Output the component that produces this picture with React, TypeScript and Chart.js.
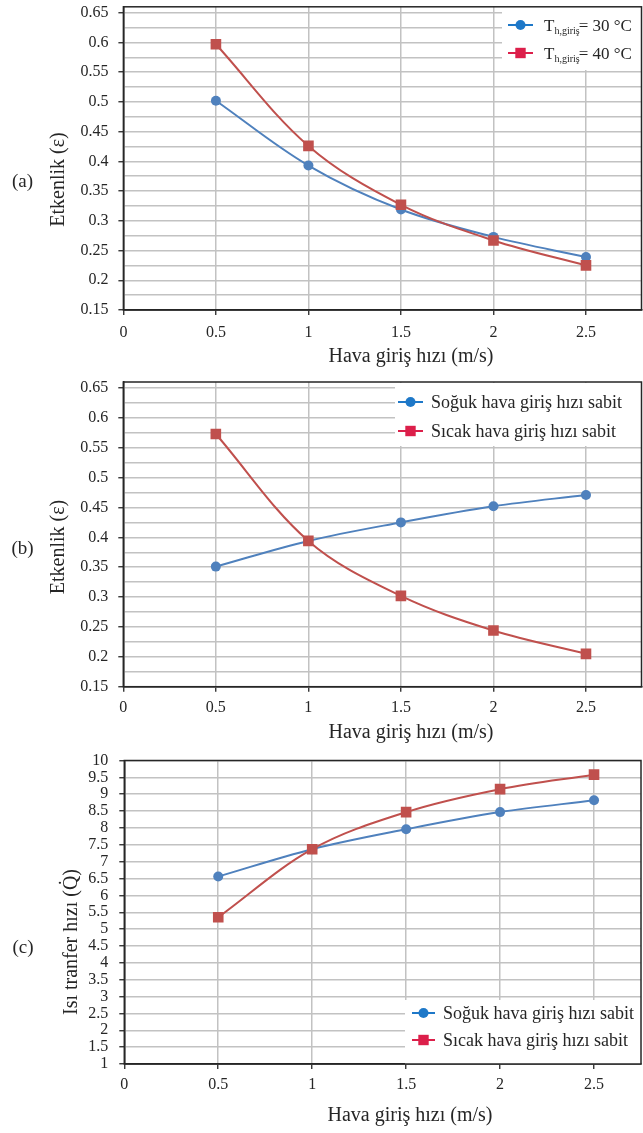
import React, { useEffect, useRef } from 'react';
import { Chart, registerables } from 'chart.js';

Chart.register(...registerables);

const FONT = "'Liberation Serif', 'Times New Roman', Times, serif";
const TEXT = '#262626';
const GRID = '#c2c2c2';
const AXIS = '#262626';
const BLUE = '#4f81bd';
const RED = '#c0504d';
const BLUE_KEY = '#1e78c8';
const RED_KEY = '#dc1f4a';

// shared x values (air inlet speed, m/s)
const airSpeeds = [0.5, 1, 1.5, 2, 2.5];
const xTicks = [0, 0.5, 1, 1.5, 2, 2.5];

// (a) effectiveness for two hot inlet temperatures
const effA30 = [0.502, 0.393, 0.319, 0.273, 0.239];
const effA40 = [0.597, 0.426, 0.327, 0.267, 0.225];
// (b) effectiveness, cold / hot inlet speed fixed
const effBCold = [0.351, 0.394, 0.425, 0.452, 0.471];
const effBHot = [0.573, 0.394, 0.302, 0.244, 0.205];
// (c) heat transfer rate, cold / hot inlet speed fixed
const qCold = [6.56, 7.37, 7.96, 8.47, 8.82];
const qHot = [5.35, 7.37, 8.47, 9.15, 9.58];

const effMajorTicks = [0.15, 0.2, 0.25, 0.3, 0.35, 0.4, 0.45, 0.5, 0.55, 0.6, 0.65];
const effMinorTicks = [0.175, 0.225, 0.275, 0.325, 0.375, 0.425, 0.475, 0.525, 0.575, 0.625];
const qMajorTicks = [1, 1.5, 2, 2.5, 3, 3.5, 4, 4.5, 5, 5.5, 6, 6.5, 7, 7.5, 8, 8.5, 9, 9.5, 10];
const qMinorTicks: number[] = [];

const labelsA = ['Th,giriş= 30 °C', 'Th,giriş= 40 °C'];
const legendPartsA = [['T', 'h,giriş', '= 30 °C'], ['T', 'h,giriş', '= 40 °C']];
const labelsBC = ['Soğuk hava giriş hızı sabit', 'Sıcak hava giriş hızı sabit'];
const legendPartsBC = [['Soğuk hava giriş hızı sabit'], ['Sıcak hava giriş hızı sabit']];

const yTitleEff = 'Etkenlik (ε)';
const yTitleQ = 'Isı tranfer hızı (Q\u0307)';
const xTitle = 'Hava giriş hızı (m/s)';

type LegendSpec = {
  box: [number, number, number, number];
  lineX: [number, number];
  textX: number;
  rows: number[];
  size: number;
  parts: string[][];
};

type Panel = {
  key: string;
  height: number;
  area: { left: number; top: number; right: number; bottom: number };
  yMin: number;
  yMax: number;
  xMax: number;
  major: number[];
  minor: number[];
  blue: number[];
  red: number[];
  labels: string[];
  yTitle: string;
  yTitlePos: [number, number];
  xTitlePos: [number, number];
  panelLabel: string;
  panelLabelPos: [number, number];
  xTickPad: number;
  yTickPad: number;
  legend: LegendSpec;
};

const W = 643;

const panels: Panel[] = [
  {
    key: 'a',
    height: 372,
    area: { left: 123.4, top: 6.8, right: 641.5, bottom: 310 },
    yMin: 0.15,
    yMax: 0.66,
    xMax: 2.8,
    major: effMajorTicks,
    minor: effMinorTicks,
    blue: effA30,
    red: effA40,
    labels: labelsA,
    yTitle: yTitleEff,
    yTitlePos: [63.5, 179.5],
    xTitlePos: [411, 362],
    panelLabel: '(a)',
    panelLabelPos: [22.5, 182],
    xTickPad: 8,
    yTickPad: 10,
    legend: {
      box: [502, 7, 641, 70],
      lineX: [508, 533],
      textX: 544,
      rows: [25, 53],
      size: 17,
      parts: legendPartsA,
    },
  },
  {
    key: 'b',
    height: 376,
    area: { left: 123.3, top: 10, right: 641.5, bottom: 314.7 },
    yMin: 0.15,
    yMax: 0.66,
    xMax: 2.8,
    major: effMajorTicks,
    minor: effMinorTicks,
    blue: effBCold,
    red: effBHot,
    labels: labelsBC,
    yTitle: yTitleEff,
    yTitlePos: [63.5, 175],
    xTitlePos: [411, 366],
    panelLabel: '(b)',
    panelLabelPos: [22.5, 177],
    xTickPad: 6.7,
    yTickPad: 10,
    legend: {
      box: [395, 11, 641, 74],
      lineX: [398, 423],
      textX: 431,
      rows: [30, 59],
      size: 18,
      parts: legendPartsBC,
    },
  },
  {
    key: 'c',
    height: 385,
    area: { left: 124.3, top: 12.5, right: 641, bottom: 316 },
    yMin: 1,
    yMax: 10,
    xMax: 2.75,
    major: qMajorTicks,
    minor: qMinorTicks,
    blue: qCold,
    red: qHot,
    labels: labelsBC,
    yTitle: yTitleQ,
    yTitlePos: [77, 194],
    xTitlePos: [410, 373],
    panelLabel: '(c)',
    panelLabelPos: [23, 200],
    xTickPad: 6,
    yTickPad: 11,
    legend: {
      box: [405, 252, 641, 316],
      lineX: [412, 435],
      textX: 443,
      rows: [265, 292],
      size: 18,
      parts: legendPartsBC,
    },
  },
];

function fmt(v: number) {
  return String(parseFloat(v.toFixed(3)));
}

function PanelChart({ p }: { p: Panel }) {
  const ref = useRef<HTMLCanvasElement>(null);

  useEffect(() => {
    const canvas = ref.current;
    if (!canvas) return;
    const isMajor = (v: number) => p.major.some((m) => Math.abs(m - v) < 1e-6);
    const yTickVals = [...p.major, ...p.minor].sort((a, b) => a - b);

    const decor = {
      id: 'decor' + p.key,
      afterDatasetsDraw(chart: any) {
        const ctx = chart.ctx as CanvasRenderingContext2D;
        const L = p.legend;
        ctx.save();
        ctx.fillStyle = '#ffffff';
        ctx.fillRect(L.box[0], L.box[1], L.box[2] - L.box[0], L.box[3] - L.box[1]);
        const keyColors = [BLUE_KEY, RED_KEY];
        L.rows.forEach((ry, i) => {
          const col = keyColors[i];
          ctx.strokeStyle = col;
          ctx.lineWidth = 2;
          ctx.beginPath();
          ctx.moveTo(L.lineX[0], ry);
          ctx.lineTo(L.lineX[1], ry);
          ctx.stroke();
          const cx = (L.lineX[0] + L.lineX[1]) / 2;
          ctx.fillStyle = col;
          if (i === 0) {
            ctx.beginPath();
            ctx.arc(cx, ry, 5, 0, Math.PI * 2);
            ctx.fill();
          } else {
            ctx.fillRect(cx - 5.2, ry - 5.2, 10.4, 10.4);
          }
          ctx.fillStyle = TEXT;
          ctx.textAlign = 'left';
          ctx.textBaseline = 'alphabetic';
          const base = ry + L.size * 0.36;
          const parts = L.parts[i];
          let x = L.textX;
          if (parts.length === 3) {
            ctx.font = `${L.size}px ${FONT}`;
            ctx.fillText(parts[0], x, base);
            x += ctx.measureText(parts[0]).width;
            const sub = Math.round(L.size * 0.6);
            ctx.font = `${sub}px ${FONT}`;
            ctx.fillText(parts[1], x, base + 3);
            x += ctx.measureText(parts[1]).width;
            ctx.font = `${L.size}px ${FONT}`;
            ctx.fillText(parts[2], x - 1, base);
          } else {
            ctx.font = `${L.size}px ${FONT}`;
            ctx.fillText(parts[0], x, base);
          }
        });
        ctx.restore();
      },
      afterDraw(chart: any) {
        const ctx = chart.ctx as CanvasRenderingContext2D;
        const a = chart.chartArea;
        ctx.save();
        ctx.strokeStyle = AXIS;
        ctx.lineWidth = 1.5;
        ctx.strokeRect(a.left, a.top, a.right - a.left, a.bottom - a.top);

        ctx.fillStyle = TEXT;
        // y title
        ctx.font = `20px ${FONT}`;
        ctx.textAlign = 'center';
        ctx.textBaseline = 'alphabetic';
        ctx.save();
        ctx.translate(p.yTitlePos[0], p.yTitlePos[1]);
        ctx.rotate(-Math.PI / 2);
        ctx.fillText(p.yTitle, 0, 0);
        ctx.restore();
        // x title
        ctx.fillText(xTitle, p.xTitlePos[0], p.xTitlePos[1]);
        // panel label
        ctx.font = `19px ${FONT}`;
        ctx.textBaseline = 'middle';
        ctx.fillText(p.panelLabel, p.panelLabelPos[0], p.panelLabelPos[1]);
        ctx.restore();
      },
    };

    const chart = new Chart(canvas, {
      type: 'line',
      data: {
        datasets: [
          {
            label: p.labels[0],
            data: airSpeeds.map((x, i) => ({ x, y: p.blue[i] })),
            borderColor: BLUE,
            backgroundColor: BLUE,
            pointBackgroundColor: BLUE,
            pointBorderColor: BLUE,
            pointStyle: 'circle',
            pointRadius: 5,
            pointBorderWidth: 0,
            borderWidth: 2,
            tension: 0.35,
            fill: false,
            order: 1,
          },
          {
            label: p.labels[1],
            data: airSpeeds.map((x, i) => ({ x, y: p.red[i] })),
            borderColor: RED,
            backgroundColor: RED,
            pointBackgroundColor: RED,
            pointBorderColor: RED,
            pointStyle: 'rect',
            pointRadius: 7.5,
            pointBorderWidth: 0,
            borderWidth: 2,
            tension: 0.35,
            fill: false,
            order: 0,
          },
        ],
      },
      options: {
        responsive: false,
        maintainAspectRatio: false,
        animation: false,
        devicePixelRatio: 1,
        events: [],
        layout: {
          autoPadding: false,
          padding: { left: 0, top: p.area.top, right: W - p.area.right, bottom: 0 },
        },
        plugins: {
          legend: { display: false },
          tooltip: { enabled: false },
          title: { display: false },
        },
        scales: {
          x: {
            type: 'linear',
            min: 0,
            max: p.xMax,
            afterBuildTicks: (s: any) => {
              s.ticks = xTicks.map((v) => ({ value: v }));
            },
            afterFit: (s: any) => {
              s.height = p.height - p.area.bottom;
              s.paddingLeft = 0;
              s.paddingRight = 0;
            },
            grid: {
              color: GRID,
              lineWidth: 1.5,
              drawTicks: true,
              tickLength: 5,
              tickColor: AXIS,
              tickWidth: 1.3,
            },
            border: { display: true, color: AXIS, width: 1.5 },
            ticks: {
              autoSkip: false,
              maxRotation: 0,
              padding: p.xTickPad,
              color: TEXT,
              font: { family: FONT, size: 16 },
              callback: (v: any) => fmt(Number(v)),
            },
          },
          y: {
            type: 'linear',
            min: p.yMin,
            max: p.yMax,
            afterBuildTicks: (s: any) => {
              s.ticks = yTickVals.map((v) => ({ value: v }));
            },
            afterFit: (s: any) => {
              s.width = p.area.left;
              s.paddingTop = 0;
              s.paddingBottom = 0;
            },
            grid: {
              color: GRID,
              lineWidth: 1.5,
              drawTicks: true,
              tickLength: 5,
              tickColor: (c: any) => (c.tick && isMajor(c.tick.value) ? AXIS : 'rgba(0,0,0,0)'),
              tickWidth: 1.3,
            },
            border: { display: true, color: AXIS, width: 1.5 },
            ticks: {
              autoSkip: false,
              padding: p.yTickPad,
              color: TEXT,
              font: { family: FONT, size: 16 },
              callback: (v: any) => (isMajor(Number(v)) ? fmt(Number(v)) : ''),
            },
          },
        },
      },
      plugins: [decor],
    } as any);

    return () => {
      chart.destroy();
    };
  }, [p]);

  return (
    <canvas
      ref={ref}
      width={W}
      height={p.height}
      style={{ display: 'block', width: W, height: p.height }}
    />
  );
}

export default function App() {
  return (
    <div
      style={{
        position: 'absolute',
        left: 0,
        top: 0,
        width: W,
        height: 1133,
        background: '#ffffff',
        overflow: 'hidden',
      }}
    >
      {panels.map((p) => (
        <PanelChart key={p.key} p={p} />
      ))}
    </div>
  );
}
